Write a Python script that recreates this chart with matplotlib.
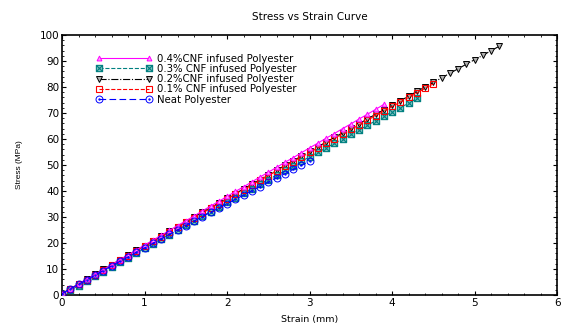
import matplotlib
matplotlib.use("Agg")
import matplotlib.pyplot as plt
from matplotlib.path import Path
from matplotlib.ticker import MultipleLocator

plt.rcParams['font.family'] = ['DejaVu Sans']

# strain (mm) / stress (MPa)
strain_04 = [0.0, 0.1, 0.2, 0.3, 0.4, 0.5, 0.6, 0.7, 0.8, 0.9, 1.0, 1.1, 1.2, 1.3,
             1.4, 1.5, 1.6, 1.7, 1.8, 1.9, 2.0, 2.1, 2.2, 2.3, 2.4, 2.5, 2.6, 2.7,
             2.8, 2.9, 3.0, 3.1, 3.2, 3.3, 3.4, 3.5, 3.6, 3.7, 3.8, 3.9]
stress_04 = [0.3, 2.2, 4.1, 6.0, 7.9, 9.7, 11.6, 13.5, 15.4, 17.3, 19.2, 21.0, 22.9,
             24.8, 26.7, 28.5, 30.4, 32.3, 34.2, 36.0, 37.9, 39.8, 41.6, 43.5, 45.4,
             47.2, 49.1, 51.0, 52.8, 54.7, 56.6, 58.4, 60.3, 62.1, 64.0, 65.8, 67.7,
             69.5, 71.4, 73.3]

strain_03 = [0.0, 0.1, 0.2, 0.3, 0.4, 0.5, 0.6, 0.7, 0.8, 0.9, 1.0, 1.1, 1.2, 1.3,
             1.4, 1.5, 1.6, 1.7, 1.8, 1.9, 2.0, 2.1, 2.2, 2.3, 2.4, 2.5, 2.6, 2.7,
             2.8, 2.9, 3.0, 3.1, 3.2, 3.3, 3.4, 3.5, 3.6, 3.7, 3.8, 3.9, 4.0, 4.1,
             4.2, 4.3]
stress_03 = [0.2, 1.8, 3.6, 5.4, 7.2, 9.0, 10.8, 12.5, 14.3, 16.1, 17.9, 19.7, 21.5,
             23.2, 25.0, 26.8, 28.5, 30.3, 32.1, 33.8, 35.6, 37.4, 39.1, 40.9, 42.6,
             44.4, 46.1, 47.9, 49.6, 51.4, 53.1, 54.8, 56.6, 58.3, 60.0, 61.8, 63.5,
             65.2, 67.0, 68.7, 70.4, 72.1, 73.8, 75.6]

strain_02 = [0.0, 0.1, 0.2, 0.3, 0.4, 0.5, 0.6, 0.7, 0.8, 0.9, 1.0, 1.1, 1.2, 1.3,
             1.4, 1.5, 1.6, 1.7, 1.8, 1.9, 2.0, 2.1, 2.2, 2.3, 2.4, 2.5, 2.6, 2.7,
             2.8, 2.9, 3.0, 3.1, 3.2, 3.3, 3.4, 3.5, 3.6, 3.7, 3.8, 3.9, 4.0, 4.1,
             4.2, 4.3, 4.4, 4.5, 4.6, 4.7, 4.8, 4.9, 5.0, 5.1, 5.2, 5.3]
stress_02 = [0.5, 2.4, 4.2, 6.1, 7.9, 9.8, 11.6, 13.5, 15.3, 17.1, 19.0, 20.8, 22.6,
             24.5, 26.3, 28.1, 30.0, 31.8, 33.6, 35.4, 37.2, 39.0, 40.8, 42.6, 44.4,
             46.3, 48.0, 49.8, 51.6, 53.4, 55.2, 57.0, 58.8, 60.6, 62.4, 64.1, 65.9,
             67.7, 69.5, 71.2, 73.0, 74.7, 76.5, 78.3, 80.0, 81.8, 83.5, 85.3, 87.0,
             88.8, 90.5, 92.2, 94.0, 95.7]

strain_01 = [0.0, 0.1, 0.2, 0.3, 0.4, 0.5, 0.6, 0.7, 0.8, 0.9, 1.0, 1.1, 1.2, 1.3,
             1.4, 1.5, 1.6, 1.7, 1.8, 1.9, 2.0, 2.1, 2.2, 2.3, 2.4, 2.5, 2.6, 2.7,
             2.8, 2.9, 3.0, 3.1, 3.2, 3.3, 3.4, 3.5, 3.6, 3.7, 3.8, 3.9, 4.0, 4.1,
             4.2, 4.3, 4.4, 4.5]
stress_01 = [0.4, 2.3, 4.1, 5.9, 7.8, 9.6, 11.5, 13.3, 15.1, 17.0, 18.8, 20.6, 22.4,
             24.3, 26.1, 27.9, 29.7, 31.5, 33.3, 35.1, 36.9, 38.7, 40.5, 42.3, 44.1,
             45.9, 47.7, 49.5, 51.3, 53.0, 54.8, 56.6, 58.4, 60.1, 61.9, 63.7, 65.4,
             67.2, 69.0, 70.7, 72.5, 74.2, 76.0, 77.7, 79.5, 81.2]

strain_neat = [0.0, 0.1, 0.2, 0.3, 0.4, 0.5, 0.6, 0.7, 0.8, 0.9, 1.0, 1.1, 1.2, 1.3,
               1.4, 1.5, 1.6, 1.7, 1.8, 1.9, 2.0, 2.1, 2.2, 2.3, 2.4, 2.5, 2.6, 2.7,
               2.8, 2.9, 3.0]
stress_neat = [0.5, 2.3, 4.1, 5.8, 7.6, 9.4, 11.1, 12.9, 14.6, 16.4, 18.1, 19.8, 21.6,
               23.3, 25.0, 26.7, 28.4, 30.1, 31.8, 33.4, 35.1, 36.8, 38.4, 40.1, 41.7,
               43.4, 45.0, 46.6, 48.3, 49.9, 51.5]

labels = ['0.4%CNF infused Polyester', '0.3% CNF infused Polyester',
          '0.2%CNF infused Polyester', '0.1% CNF infused Polyester', 'Neat Polyester']

# square with a cross, circle with a dot
box_x = Path([(-1, -1), (1, -1), (1, 1), (-1, 1), (-1, -1), (-1, -1), (1, 1), (-1, 1), (1, -1)],
             [Path.MOVETO, Path.LINETO, Path.LINETO, Path.LINETO, Path.CLOSEPOLY,
              Path.MOVETO, Path.LINETO, Path.MOVETO, Path.LINETO])
circ = Path.unit_circle()
dot = Path(circ.vertices * 0.2, circ.codes)
circ_dot = Path.make_compound_path(circ, dot)

fig = plt.figure(figsize=(5.64, 3.27), dpi=100)
ax = fig.add_axes([0.110, 0.098, 0.878, 0.795])

l4, = ax.plot(strain_04, stress_04, '-', color='#ff00ff', marker='^', ms=3.5,
              mfc='#ff99ff', mec='#ff00ff', mew=0.7, lw=0.8, zorder=5)
l3, = ax.plot(strain_03, stress_03, '--', color='#008080', marker=box_x, ms=4.5,
              mfc='#80c0c0', mec='#008080', mew=0.8, lw=0.8, zorder=3)
l2, = ax.plot(strain_02, stress_02, '-.', color='black', marker='v', ms=5,
              mfc='#b0b0b0', mec='black', mew=0.7, lw=0.8, zorder=2)
l1, = ax.plot(strain_01, stress_01, '--', color='red', marker='s', ms=4.5,
              mfc='none', mec='red', mew=0.8, lw=0.8, zorder=4)
l0, = ax.plot(strain_neat, stress_neat, '--', color='blue', marker=circ_dot, ms=5,
              mfc='none', mec='blue', mew=0.7, lw=0.8, zorder=6, dashes=(6, 3))

ax.set_xlim(0, 6)
ax.set_ylim(0, 100)
ax.xaxis.set_major_locator(MultipleLocator(1))
ax.xaxis.set_minor_locator(MultipleLocator(0.2))
ax.yaxis.set_major_locator(MultipleLocator(10))
ax.yaxis.set_minor_locator(MultipleLocator(2))
ax.tick_params(which='both', direction='in', top=True, right=True, labelsize=7.5, pad=2)
ax.tick_params(which='major', length=3)
ax.tick_params(which='minor', length=1.5)
for s in ax.spines.values():
    s.set_linewidth(1.2)

ax.set_title('Stress vs Strain Curve', fontsize=7.5, pad=11)
ax.set_xlabel('Strain (mm)', fontsize=6.8, labelpad=5)
ax.set_ylabel('Stress (MPa)', fontsize=6, labelpad=12, family='Liberation Sans')

ax.legend([l4, l3, l2, l1, l0], labels, loc='upper left', bbox_to_anchor=(0.055, 0.955),
          frameon=False, fontsize=7.3, handlelength=5.5, numpoints=2,
          labelspacing=0.02, handletextpad=0.5, borderpad=0.2)

fig.savefig('out.png', dpi=100)
